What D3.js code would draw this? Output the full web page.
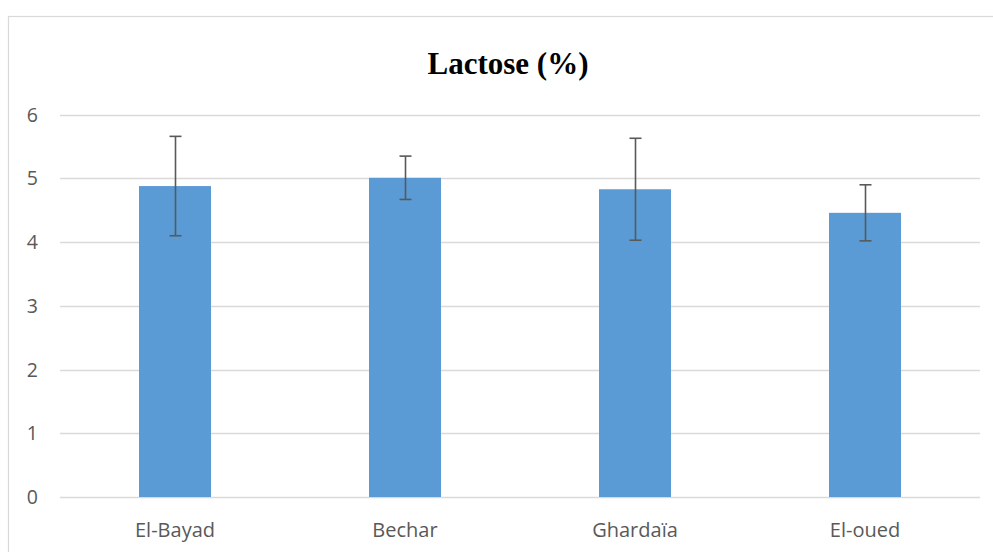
<!DOCTYPE html>
<html><head><meta charset="utf-8">
<script src="https://cdn.jsdelivr.net/npm/d3@7"></script>
<style>body{margin:0;background:#fff}svg{display:block}</style>
</head><body>
<script>
const categories = ["El-Bayad", "Bechar", "Ghardaïa", "El-oued"];
const values = [4.88, 5.01, 4.83, 4.46];
const errors = [0.78, 0.34, 0.80, 0.44];
const yTicks = [0, 1, 2, 3, 4, 5, 6];
const title = "Lactose (%)";

const W = 993, H = 552;
const svg = d3.select("body").append("svg").attr("width", W).attr("height", H);
svg.append("rect").attr("width", W).attr("height", H).attr("fill", "#fff");
// chart border
svg.append("rect").attr("x", 8.5).attr("y", 16.5).attr("width", 1000).attr("height", 600)
  .attr("fill", "none").attr("stroke", "#d9d9d9").attr("stroke-width", 1.2);

const plotLeft = 60, plotRight = 980, plotTop = 114.7, plotBottom = 497;
const x = d3.scaleBand().domain(categories).range([plotLeft, plotRight]).padding(0);
const y = d3.scaleLinear().domain([0, 6]).range([plotBottom, plotTop]);
const barW = x.bandwidth() * 72 / 230;

// gridlines
svg.append("g").selectAll("line").data(yTicks).join("line")
  .attr("x1", plotLeft).attr("x2", plotRight)
  .attr("y1", d => Math.round(y(d)) + 0.5).attr("y2", d => Math.round(y(d)) + 0.5)
  .attr("stroke", "#d9d9d9").attr("stroke-width", 1.3);

// y axis labels
svg.append("g").selectAll("text").data(yTicks).join("text")
  .attr("x", 38).attr("y", d => y(d)).attr("dy", "0.36em").attr("text-anchor", "end")
  .attr("font-family", "'Open Sans', 'Liberation Sans', sans-serif").attr("font-size", 19.5)
  .attr("fill", "#595959").text(d => d);

// bars
svg.append("g").selectAll("rect").data(values).join("rect")
  .attr("x", (d, i) => x(categories[i]) + x.bandwidth() / 2 - barW / 2)
  .attr("y", d => y(d)).attr("width", barW).attr("height", d => plotBottom - y(d))
  .attr("fill", "#5b9bd5");

// error bars
const eg = svg.append("g").attr("stroke", "#595959").attr("stroke-width", 1.6);
values.forEach((v, i) => {
  const cx = Math.round(x(categories[i]) + x.bandwidth() / 2) + 0.5;
  const yt = y(v + errors[i]), yb = y(v - errors[i]);
  eg.append("line").attr("x1", cx).attr("x2", cx).attr("y1", yt).attr("y2", yb);
  eg.append("line").attr("x1", cx - 6).attr("x2", cx + 6).attr("y1", yt).attr("y2", yt);
  eg.append("line").attr("x1", cx - 6).attr("x2", cx + 6).attr("y1", yb).attr("y2", yb);
});

// x labels
svg.append("g").selectAll("text").data(categories).join("text")
  .attr("x", d => x(d) + x.bandwidth() / 2).attr("y", 537).attr("text-anchor", "middle")
  .attr("font-family", "'Open Sans', 'Liberation Sans', sans-serif").attr("font-size", 20)
  .attr("fill", "#595959").text(d => d);

// title
svg.append("text").attr("x", 508).attr("y", 74).attr("text-anchor", "middle")
  .attr("font-family", "'Liberation Serif', 'Times New Roman', serif").attr("font-weight", "bold")
  .attr("font-size", 31).attr("fill", "#000").text(title);
</script>
</body></html>
